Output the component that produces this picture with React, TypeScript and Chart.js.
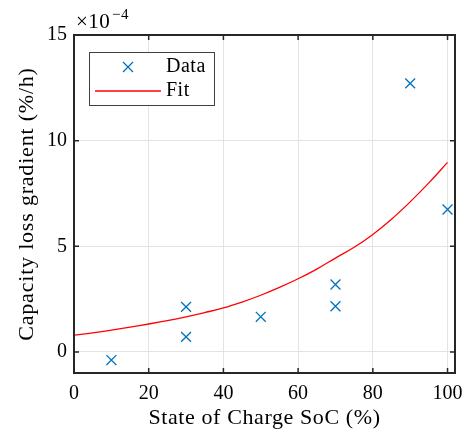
import React, { useEffect, useRef } from "react";
import { Chart, registerables } from "chart.js";

Chart.register(...registerables);

const dataX = [10, 30, 30, 50, 70, 70, 90, 100];
const dataY = [-0.39, 2.13, 0.71, 1.66, 3.19, 2.16, 12.71, 6.74];
const fitX = [0, 5, 10, 15, 20, 25, 30, 35, 40, 45, 50, 55, 60, 65, 70, 75, 80, 85, 90, 95, 100];
const fitY = [0.79, 0.9, 1.03, 1.17, 1.32, 1.48, 1.66, 1.86, 2.08, 2.36, 2.68, 3.05, 3.46, 3.92, 4.44, 4.95, 5.56, 6.28, 7.1, 8.0, 8.97];
const xTicks = [0, 20, 40, 60, 80, 100];
const yTicks = [0, 5, 10, 15];
const xTitle = "State of Charge SoC (%)";
const yTitle = "Capacity loss gradient (%/h)";
const legendLabels = ["Data", "Fit"];

const FONT = '"Liberation Serif", "Times New Roman", serif';
const AX = "#262626";
const BLUE = "#0072BD";
const RED = "#FF0000";

const decor = {
  id: "decor",
  afterDraw(chart: any) {
    const ctx = chart.ctx as any;
    const a = chart.chartArea;
    const xs = chart.scales.x;
    const ys = chart.scales.y;
    ctx.save();
    // ticks inward
    ctx.strokeStyle = AX;
    ctx.lineWidth = 1.5;
    ctx.beginPath();
    for (const t of xTicks) {
      const px = xs.getPixelForValue(t);
      ctx.moveTo(px, a.bottom);
      ctx.lineTo(px, a.bottom - 5);
      ctx.moveTo(px, a.top);
      ctx.lineTo(px, a.top + 5);
    }
    for (const t of yTicks) {
      const py = ys.getPixelForValue(t);
      ctx.moveTo(a.left, py);
      ctx.lineTo(a.left + 5, py);
      ctx.moveTo(a.right, py);
      ctx.lineTo(a.right - 5, py);
    }
    ctx.stroke();
    // box
    ctx.lineWidth = 2;
    ctx.strokeRect(a.left, a.top, a.right - a.left, a.bottom - a.top);

    // exponent
    ctx.fillStyle = "#000";
    ctx.textAlign = "left";
    ctx.textBaseline = "alphabetic";
    ctx.font = `21px ${FONT}`;
    ctx.letterSpacing = "0.5px";
    ctx.fillText("\u00d710", 76, 28);
    ctx.font = `15px ${FONT}`;
    ctx.fillText("\u22124", 112, 19);

    // axis titles
    ctx.font = `22px ${FONT}`;
    ctx.textAlign = "center";
    ctx.letterSpacing = "0.6px";
    ctx.fillText(xTitle, (a.left + a.right) / 2, 424);
    ctx.save();
    ctx.translate(33, (a.top + a.bottom) / 2);
    ctx.rotate(-Math.PI / 2);
    ctx.letterSpacing = "0.8px";
    ctx.fillText(yTitle, 0, 0);
    ctx.restore();

    // legend
    ctx.letterSpacing = "0.5px";
    ctx.fillStyle = "#fff";
    ctx.fillRect(89, 52, 125, 53);
    ctx.strokeStyle = "#404040";
    ctx.lineWidth = 1;
    ctx.strokeRect(89.5, 52.5, 125, 53);
    ctx.strokeStyle = BLUE;
    ctx.lineWidth = 1.3;
    ctx.beginPath();
    ctx.moveTo(123, 62);
    ctx.lineTo(133, 72);
    ctx.moveTo(133, 62);
    ctx.lineTo(123, 72);
    ctx.stroke();
    ctx.strokeStyle = RED;
    ctx.lineWidth = 1.5;
    ctx.beginPath();
    ctx.moveTo(95, 91);
    ctx.lineTo(161, 91);
    ctx.stroke();
    ctx.fillStyle = "#000";
    ctx.textAlign = "left";
    ctx.font = `20px ${FONT}`;
    ctx.fillText(legendLabels[0], 166, 72);
    ctx.fillText(legendLabels[1], 166, 96);
    ctx.restore();
  },
};

export default function App() {
  const ref = useRef<HTMLCanvasElement>(null);
  useEffect(() => {
    document.body.style.margin = "0";
    const chart = new Chart(ref.current!, {
      type: "scatter",
      data: {
        datasets: [
          {
            label: legendLabels[1],
            type: "line",
            data: fitX.map((x, i) => ({ x, y: fitY[i] })),
            borderColor: RED,
            borderWidth: 1.3,
            pointRadius: 0,
            tension: 0.4,
            fill: false,
          } as any,
          {
            label: legendLabels[0],
            data: dataX.map((x, i) => ({ x, y: dataY[i] })),
            pointStyle: "crossRot",
            pointRadius: 7,
            borderColor: BLUE,
            backgroundColor: BLUE,
            borderWidth: 1.3,
          },
        ],
      },
      options: {
        animation: false,
        responsive: false,
        layout: { padding: { top: 35, right: 19, left: 0, bottom: 0 } },
        plugins: { legend: { display: false }, tooltip: { enabled: false } },
        scales: {
          x: {
            type: "linear",
            min: 0,
            max: 102,
            afterBuildTicks: (s: any) => {
              s.ticks = xTicks.map((v) => ({ value: v }));
            },
            afterFit: (s: any) => {
              s.height = 58;
            },
            grid: { color: "#e3e3e3", lineWidth: 1, drawTicks: false },
            border: { display: false },
            ticks: { color: "#000", padding: 9, font: { family: FONT, size: 20 }, maxRotation: 0 },
          },
          y: {
            type: "linear",
            min: -1,
            max: 15,
            afterBuildTicks: (s: any) => {
              s.ticks = yTicks.map((v) => ({ value: v }));
            },
            afterFit: (s: any) => {
              s.width = 74;
            },
            grid: { color: "#e3e3e3", lineWidth: 1, drawTicks: false },
            border: { display: false },
            ticks: { color: "#000", padding: 7, font: { family: FONT, size: 20 } },
          },
        },
      },
      plugins: [decor],
    });
    return () => chart.destroy();
  }, []);
  return (
    <div style={{ width: 474, height: 431, background: "#fff" }}>
      <canvas ref={ref} width={474} height={431} />
    </div>
  );
}
